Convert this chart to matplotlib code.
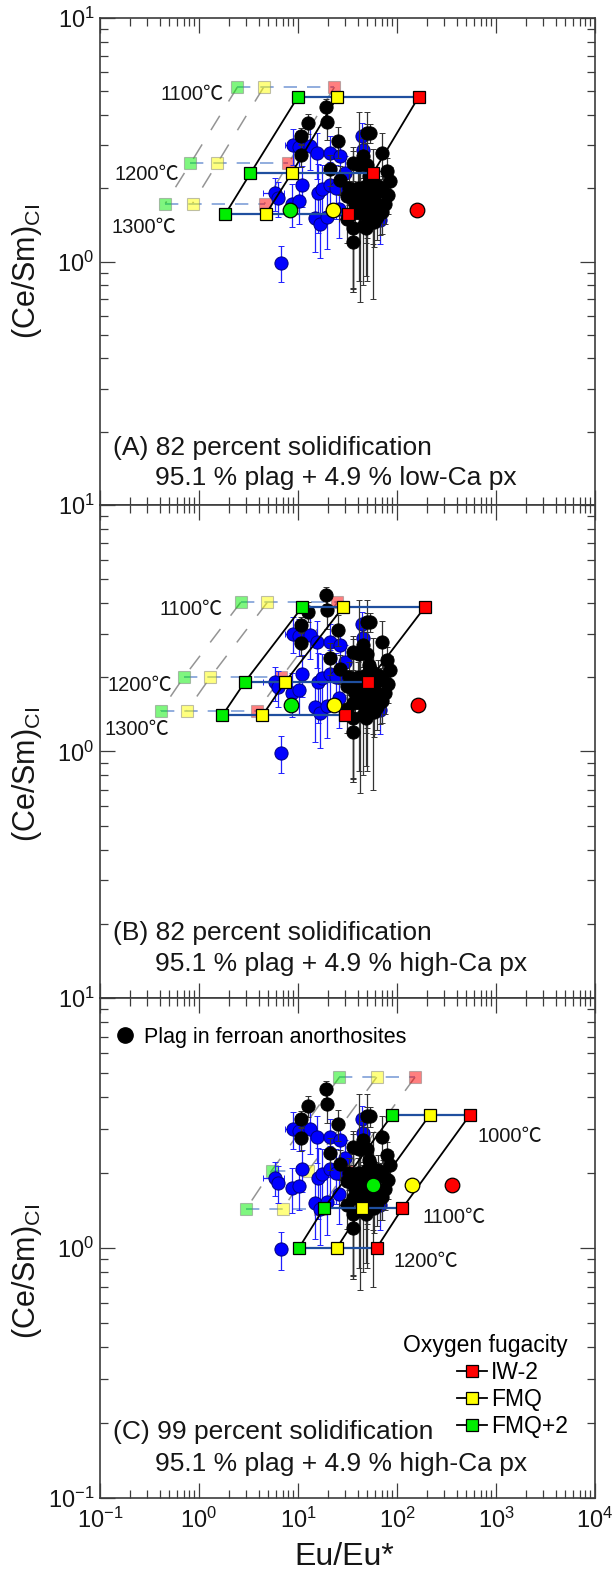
import numpy as np
import matplotlib
matplotlib.use('Agg')
import matplotlib.pyplot as plt
from matplotlib.lines import Line2D
from matplotlib.ticker import LogLocator, NullFormatter

plt.rcParams['font.family'] = ['Liberation Sans', 'Noto Sans CJK JP', 'DejaVu Sans']
plt.rcParams['mathtext.fontset'] = 'custom'
plt.rcParams['mathtext.rm'] = 'Liberation Sans'
plt.rcParams['mathtext.it'] = 'Liberation Sans:italic'
plt.rcParams['mathtext.bf'] = 'Liberation Sans:bold'

# ---------------- data: plagioclase in ferroan anorthosites (black) ----------------
fan_x = [19.2, 12.7, 19.8, 10.8, 25.4, 10.7, 49.4, 53, 41.5, 49.4, 70, 21, 26.6, 36, 45.7,
         78.6, 85, 81.7, 36, 42, 49, 57.6, 67, 49, 36, 31, 45.7, 36, 49, 36, 42, 57.6,
         62, 53, 31, 76,
         40, 45, 55, 60, 65, 72, 50, 58, 44, 38, 70, 52, 33, 47, 63]
fan_y = [4.32, 3.69, 3.75, 3.27, 3.12, 2.75, 3.36, 3.36, 2.48, 2.48, 2.78, 2.40, 2.17, 2.54, 2.71,
         2.35, 2.14, 1.87, 1.80, 1.91, 2.04, 1.80, 1.69, 1.69, 1.58, 1.49, 1.40, 1.37, 1.37, 1.20, 1.58, 1.58,
         1.91, 2.17, 1.85, 1.72,
         2.0, 1.85, 1.95, 1.75, 2.05, 1.95, 1.55, 1.45, 1.62, 1.72, 1.60, 2.25, 2.0, 1.78, 1.52]
fan_yerr = [0.35, 0.35, 0.6, 0.25, 0.45, 0.3, 0.3, 0.3, 1.65, 1.65, 0.6, 0.35, 0.3, 0.4, 0.5,
            0.3, 0.3, 0.3, 1.05, 0.5, 0.4, 1.1, 0.4, 0.5, 0.8, 0.3, 0.6, 0.6, 0.5, 0.45, 0.9, 0.4,
            0.3, 0.3, 0.3, 0.3,
            0.3, 0.3, 0.3, 0.3, 0.3, 0.3, 0.3, 0.3, 0.3, 0.3, 0.3, 0.3, 0.3, 0.3, 0.3]
fan_xerr = [0, 0, 0, 1.5, 0, 0, 0, 0, 0, 0, 0, 0, 0, 0, 0,
            0, 0, 0, 0, 0, 0, 0, 0, 0, 0, 5, 0, 0, 0, 4, 0, 0,
            0, 0, 0, 0,
            0, 0, 0, 0, 0, 0, 0, 0, 0, 0, 0, 0, 0, 0, 0]

# ---------------- data: other plagioclase (blue) ----------------
blu_x = [6.73, 8.8, 10.2, 13.2, 15.4, 21, 26.6, 44, 45.7, 10.9, 5.86, 6.3, 8.6, 10.3,
         16, 17.3, 21, 14.9, 16.7, 19.5, 67, 26, 30, 24]
blu_y = [0.99, 3.0, 2.95, 2.98, 2.78, 2.78, 2.71, 3.29, 2.88, 2.07, 1.91, 1.82, 1.73, 1.77,
         1.91, 1.98, 2.07, 1.51, 1.43, 1.53, 1.48, 1.65, 2.3, 2.0]
blu_yerr = [0.17, 0.5, 0.5, 0.6, 0.6, 0.5, 0.5, 0.4, 0.4, 0.4, 0.3, 0.3, 0.35, 0.35,
            0.6, 0.5, 0.5, 0.42, 0.4, 0.4, 0.3, 0.4, 0.4, 0.5]
blu_xerr = [0, 1.4, 0, 0, 0, 0, 0, 0, 0, 0, 1.4, 0, 0, 0,
            0, 0, 0, 1.6, 0, 0, 0, 0, 0, 0]

# ---------------- model results ----------------
# Panel A
A_temps = ['1100℃', '1200℃', '1300℃']
A_y = [4.75, 2.3, 1.57]
A_fmq2_x = [10.0, 3.3, 1.85]
A_fmq_x = [25.0, 8.6, 4.75]
A_iw_x = [166, 57, 32]
A_fad_y = [5.2, 2.53, 1.73]
A_fad_fmq2_x = [2.44, 0.82, 0.457]
A_fad_fmq_x = [4.5, 1.53, 0.86]
A_fad_iw_x = [23.3, 8.0, 4.6]
A_circ_x = [8.3, 22.4, 158]
A_circ_y = [1.62, 1.62, 1.62]

# Panel B
B_temps = ['1100℃', '1200℃', '1300℃']
B_y = [3.85, 1.92, 1.40]
B_fmq2_x = [11.0, 2.92, 1.72]
B_fmq_x = [28.5, 7.46, 4.36]
B_iw_x = [191, 51, 29.6]
B_fad_y = [4.03, 2.0, 1.46]
B_fad_fmq2_x = [2.64, 0.70, 0.41]
B_fad_fmq_x = [4.9, 1.3, 0.75]
B_fad_iw_x = [25.0, 6.8, 3.87]
B_circ_x = [8.4, 22.9, 162]
B_circ_y = [1.54, 1.54, 1.54]

# Panel C
C_temps = ['1000℃', '1100℃', '1200℃']
C_y = [3.41, 1.44, 1.0]
C_fmq2_x = [89.7, 18.2, 10.2]
C_fmq_x = [215, 44.7, 24.6]
C_iw_x = [546, 113, 62.3]
C_fad_y = [4.82, 2.04, 1.43]
C_fad_fmq2_x = [26.2, 5.42, 2.98]
C_fad_fmq_x = [62.3, 12.7, 7.0]
C_fad_iw_x = [152, 31, 16.6]
C_circ_x = [56.8, 140.7, 356]
C_circ_y = [1.79, 1.79, 1.79]

fo2_labels = ['IW-2', 'FMQ', 'FMQ+2']
fo2_colors = ['#ff0000', '#ffff00', '#00ee00']

# temperature label positions (data coords)
A_tlab = [(0.85, 4.85), (0.30, 2.28), (0.278, 1.38)]
B_tlab = [(0.84, 3.77), (0.254, 1.85), (0.237, 1.23)]
C_tlab = [(1380, 2.78), (375, 1.32), (195, 0.88)]

panel_text = [('(A) 82 percent solidification', '95.1 % plag + 4.9 % low-Ca px'),
              ('(B) 82 percent solidification', '95.1 % plag + 4.9 % high-Ca px'),
              ('(C) 99 percent solidification', '95.1 % plag + 4.9 % high-Ca px')]

# ---------------- figure ----------------
W, H = 614, 1577
fig = plt.figure(figsize=(W / 100, H / 100), dpi=100)

def ax_rect(top, bottom, left=100, right=595):
    return [left / W, 1 - bottom / H, (right - left) / W, (bottom - top) / H]

axA = fig.add_axes(ax_rect(18, 505))
axB = fig.add_axes(ax_rect(505, 998))
axC = fig.add_axes(ax_rect(998, 1498))
axes = [axA, axB, axC]

SP = '#3c3c3c'
BLUE_LINE = '#1f4f9f'
TXT = '#161616'

def draw_data(ax):
    ax.errorbar(blu_x, blu_y, yerr=blu_yerr, xerr=blu_xerr, fmt='o', ms=9.5,
                mfc='#0000ff', mec='#000080', mew=0.7, ecolor='#2020ff', elinewidth=0.9,
                capsize=2.2, capthick=0.9, zorder=2)
    ax.errorbar(fan_x, fan_y, yerr=fan_yerr, xerr=fan_xerr, fmt='o', ms=9.5,
                mfc='black', mec='black', mew=0.7, ecolor='#333333', elinewidth=0.9,
                capsize=2.2, capthick=0.9, zorder=3)

def draw_model(ax, ys, xg, xy, xr, fys, fxg, fxy, fxr, cx, cy):
    # faded (previous) model
    for fx in (fxg, fxy, fxr):
        ax.plot(fx, fys, ls=(0, (11, 11)), color='#7a7a7a', lw=1.1, alpha=0.8, zorder=1)
    for i in range(3):
        ax.plot([fxg[i], fxr[i]], [fys[i], fys[i]], ls=(0, (8, 6)), color='#7f9fd8',
                lw=1.2, zorder=1)
    for fx, c in zip((fxr, fxy, fxg), fo2_colors):
        ax.plot(fx, fys, ls='none', marker='s', ms=8.6, mfc=c, mec='#808080',
                mew=0.8, alpha=0.5, zorder=1.5)
    # current model
    for x in (xg, xy, xr):
        ax.plot(x, ys, color='black', lw=1.3, zorder=4)
    for i in range(3):
        ax.plot([xg[i], xr[i]], [ys[i], ys[i]], color=BLUE_LINE, lw=1.6, zorder=4)
    for x, c in zip((xr, xy, xg), fo2_colors):
        ax.plot(x, ys, ls='none', marker='s', ms=8.6, mfc=c, mec='black', mew=0.9, zorder=5)
    # calculated melt-equilibrium points
    for xx, yy, c in zip(cx, cy, fo2_colors[::-1]):
        ax.plot([xx], [yy], ls='none', marker='o', ms=10.5, mfc=c, mec='black', mew=0.9, zorder=6)

models = [
    (A_y, A_fmq2_x, A_fmq_x, A_iw_x, A_fad_y, A_fad_fmq2_x, A_fad_fmq_x, A_fad_iw_x, A_circ_x, A_circ_y),
    (B_y, B_fmq2_x, B_fmq_x, B_iw_x, B_fad_y, B_fad_fmq2_x, B_fad_fmq_x, B_fad_iw_x, B_circ_x, B_circ_y),
    (C_y, C_fmq2_x, C_fmq_x, C_iw_x, C_fad_y, C_fad_fmq2_x, C_fad_fmq_x, C_fad_iw_x, C_circ_x, C_circ_y),
]
temps = [A_temps, B_temps, C_temps]
tlabs = [A_tlab, B_tlab, C_tlab]
ylabels_set = [['$\\mathregular{10^{1}}$', '$\\mathregular{10^{0}}$', '$\\mathregular{10^{1}}$'],
               ['$\\mathregular{10^{1}}$', '$\\mathregular{10^{0}}$', ''],
               ['$\\mathregular{10^{-1}}$', '$\\mathregular{10^{0}}$', '']]

for k, ax in enumerate(axes):
    draw_data(ax)
    draw_model(ax, *models[k])
    for (tx, ty), t in zip(tlabs[k], temps[k]):
        ax.text(tx, ty, t, fontsize=14.5, ha='center', va='center', color=TXT, zorder=7)
    ax.set_xscale('log')
    ax.set_yscale('log')
    ax.set_xlim(0.1, 1e4)
    ax.set_ylim(0.1, 10)
    ax.set_yticks([0.1, 1, 10])
    ax.set_yticklabels(ylabels_set[k])
    ax.xaxis.set_minor_locator(LogLocator(base=10, subs=np.arange(2, 10), numticks=20))
    ax.yaxis.set_minor_locator(LogLocator(base=10, subs=np.arange(2, 10), numticks=20))
    ax.xaxis.set_minor_formatter(NullFormatter())
    ax.yaxis.set_minor_formatter(NullFormatter())
    ax.set_xticks([0.1, 1, 10, 100, 1000, 10000])
    if k < 2:
        ax.set_xticklabels([])
    else:
        ax.set_xticklabels(['$\\mathregular{10^{-1}}$', '$\\mathregular{10^{0}}$',
                            '$\\mathregular{10^{1}}$', '$\\mathregular{10^{2}}$',
                            '$\\mathregular{10^{3}}$', '$\\mathregular{10^{4}}$'])
    ax.tick_params(which='both', direction='in', top=True, right=True, color=SP,
                   labelsize=17, labelcolor=TXT)
    ax.tick_params(which='major', length=11, width=0.9)
    ax.tick_params(which='minor', length=5.5, width=0.9)
    ax.tick_params(axis='y', pad=4)
    ax.tick_params(axis='x', pad=7)
    for s in ax.spines.values():
        s.set_color(SP)
        s.set_linewidth(1.2)
    l1, l2 = panel_text[k]
    ax.text(0.026, 0.117 if k == 0 else 0.132, l1, transform=ax.transAxes, fontsize=19,
            ha='left', va='center', color=TXT)
    ax.text(0.111, 0.055 if k == 0 else 0.068, l2, transform=ax.transAxes, fontsize=19,
            ha='left', va='center', color=TXT)

# legends in panel C
h_fan = Line2D([], [], ls='none', marker='o', ms=11, mfc='black', mec='black')
leg1 = axC.legend([h_fan], ['Plag in ferroan anorthosites'], loc='upper left',
                  bbox_to_anchor=(0.03, 0.943), frameon=False, fontsize=15.5,
                  handlelength=0.9, handletextpad=0.45, borderpad=0, borderaxespad=0)
axC.add_artist(leg1)
h_fo2 = [Line2D([], [], color='black', lw=1.3, marker='s', ms=9, mfc=c, mec='black', mew=0.9)
         for c in fo2_colors]
leg2 = axC.legend(h_fo2, fo2_labels, loc='lower right', bbox_to_anchor=(0.945, 0.12),
                  frameon=False, fontsize=16.5, title='Oxygen fugacity', title_fontsize=16.5,
                  alignment='right', handlelength=1.35, handletextpad=0.15,
                  labelspacing=0.18, borderpad=0, borderaxespad=0)

# axis labels
ylab = '$\\mathregular{(Ce/Sm)_{CI}}$'
for yc in (271, 774, 1271):
    fig.text(27 / W, 1 - yc / H, ylab, rotation=90, fontsize=22, ha='center', va='center',
             color=TXT)
fig.text(344 / W, 1 - 1557 / H, 'Eu/Eu*', fontsize=23, ha='center', va='center', color=TXT)

fig.savefig('out.png', dpi=100)
